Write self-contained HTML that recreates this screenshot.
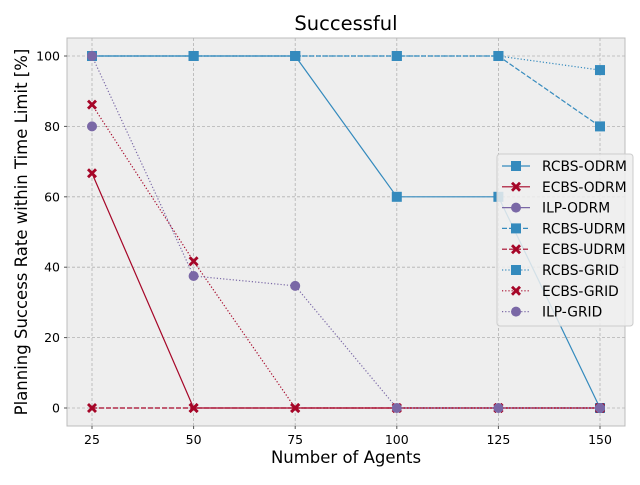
<!DOCTYPE html>
<html><head><meta charset="utf-8"><style>
body{margin:0;background:#fff}
svg text{font-family:"DejaVu Sans","Liberation Sans",sans-serif}
</style></head><body>
<svg id="c" width="640" height="480" xmlns="http://www.w3.org/2000/svg">
<rect x="0" y="0" width="640" height="480" fill="#fff"/>
<rect x="67" y="38" width="558" height="388" fill="#eeeeee" stroke="#bcbcbc"/>
<g id="grid"></g><g id="ticks"></g><g id="series"></g>
<text x="346" y="30" font-size="19.5" text-anchor="middle">Successful</text>
<text x="346" y="463" font-size="16.5" text-anchor="middle">Number of Agents</text>
<text transform="translate(27,232) rotate(-90)" font-size="16.5" text-anchor="middle">Planning Success Rate within Time Limit [%]</text>
<g id="legend"></g>
</svg>
<script>
const categories=[25,50,75,100,125,150];
const seriesNames=["RCBS-ODRM","ECBS-ODRM","ILP-ODRM","RCBS-UDRM","ECBS-UDRM","RCBS-GRID","ECBS-GRID","ILP-GRID"];
const rcbsOdrm=[100,100,100,60,60,0];
const ecbsOdrm=[66.7,0,0,0,0,0];
const ilpOdrm=[80,null,null,null,null,null];
const rcbsUdrm=[100,100,100,100,100,80];
const ecbsUdrm=[0,0,0,0,0,0];
const rcbsGrid=[100,100,100,100,100,96];
const ecbsGrid=[86.2,41.7,0,0,0,0];
const ilpGrid=[100,37.5,34.7,0,0,0];
const yTicks=[0,20,40,60,80,100];
const NS="http://www.w3.org/2000/svg";
const xs=v=>92+(v-25)*(508/125);
const ys=v=>408-v*3.52;
function mk(t,a,p){const e=document.createElementNS(NS,t);for(const k in a)e.setAttribute(k,a[k]);p.appendChild(e);return e;}
const G=document.getElementById('grid'),T=document.getElementById('ticks'),S=document.getElementById('series'),L=document.getElementById('legend');
categories.forEach(c=>{const x=xs(c);
 const g=mk('line',{x1:x,x2:x,y1:38,y2:426,stroke:'#b2b2b2','stroke-width':0.8,'stroke-dasharray':'3,2'},G);
 
 const t=mk('text',{x:x,y:444,'font-size':12.5,'text-anchor':'middle'},T);t.textContent=c;
 
 mk('line',{x1:x,x2:x,y1:426,y2:429,stroke:'#555'},T);});
yTicks.forEach(v=>{const y=ys(v);
 const g=mk('line',{x1:67,x2:625,y1:y,y2:y,stroke:'#b2b2b2','stroke-width':0.8,'stroke-dasharray':'3,2'},G);
 
 const t=mk('text',{x:60,y:y+4.5,'font-size':12.5,'text-anchor':'end'},T);t.textContent=v;
 
 mk('line',{x1:64,x2:67,y1:y,y2:y,stroke:'#555'},T);});
const B='#348ABD',R='#A60628',P='#7A68A6';
const cfg=[[rcbsOdrm,B,'s',''],[ecbsOdrm,R,'x',''],[ilpOdrm,P,'o',''],[rcbsUdrm,B,'s','5,2'],[ecbsUdrm,R,'x','5,2'],[rcbsGrid,B,'s','1.2,2'],[ecbsGrid,R,'x','1.2,2'],[ilpGrid,P,'o','1.2,2']];
function marker(p,x,y,col,m){let e;
 if(m==='s')e=mk('rect',{x:x-5,y:y-5,width:10,height:10,fill:col},p);
 else if(m==='o')e=mk('circle',{cx:x,cy:y,r:5,fill:col},p);
 else e=mk('path',{d:`M${x-5} ${y-3}L${x-3} ${y-5}L${x} ${y-2}L${x+3} ${y-5}L${x+5} ${y-3}L${x+2} ${y}L${x+5} ${y+3}L${x+3} ${y+5}L${x} ${y+2}L${x-3} ${y+5}L${x-5} ${y+3}L${x-2} ${y}Z`,fill:col},p);
 return e;}
cfg.forEach((c,i)=>{const [d,col,m,dash]=c;
 const g=mk('g',{},S);
 let pts=[];d.forEach((v,j)=>{if(v!==null)pts.push([xs(categories[j]),ys(v)]);});
 if(pts.length>1){const l=mk('polyline',{points:pts.map(p=>p.join(',')).join(' '),fill:'none',stroke:col,'stroke-width':1.2,'stroke-dasharray':dash},g);
  }
 pts.forEach(p=>{const e=marker(g,p[0],p[1],col,m);});});
const bx=mk('rect',{x:497,y:154,width:136,height:172,rx:3,fill:'#eeeeee','fill-opacity':0.85,stroke:'#cccccc'},L);
cfg.forEach((c,i)=>{const y=166+i*20.8;const [d,col,m,dash]=c;
 const g=mk('g',{},L);
 mk('line',{x1:502,x2:530,y1:y,y2:y,stroke:col,'stroke-width':1.2,'stroke-dasharray':dash},g);
 marker(g,516,y,col,m);
 const t=mk('text',{x:542,y:y+5,'font-size':13.8},g);t.textContent=seriesNames[i];});
</script>
</body></html>
